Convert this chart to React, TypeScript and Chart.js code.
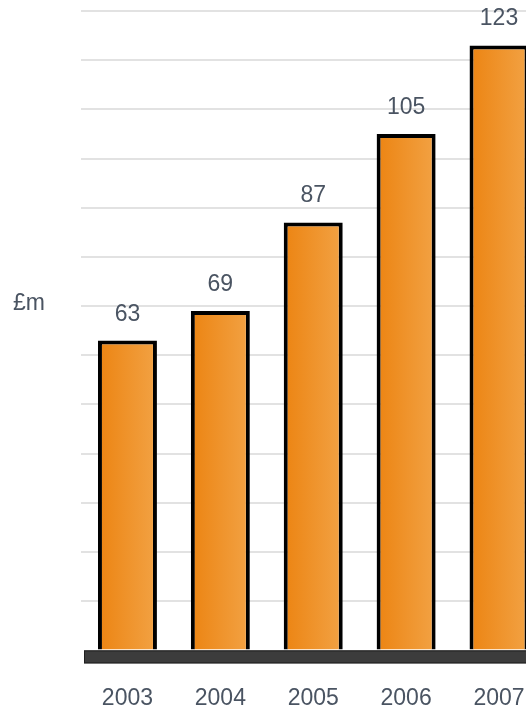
import React, { useEffect, useRef } from "react";
import { Chart, registerables } from "chart.js";

Chart.register(...registerables);

const years = ["2003", "2004", "2005", "2006", "2007"];
const revenue = [63, 69, 87, 105, 123];
const unitLabel = "£m";

const FONT = "'Liberation Sans', Arial, sans-serif";
const TEXT_COLOR = "#4a5462";
const BAR_PCT = 0.635;

const extrasPlugin = {
  id: "extras",
  afterDatasetsDraw(chart: any) {
    const { ctx, chartArea } = chart;
    const y0 = chart.scales.y.getPixelForValue(0);
    ctx.save();
    // dark base strip
    ctx.fillStyle = "#3c3c3c";
    ctx.strokeStyle = "#1f1f1f";
    ctx.lineWidth = 1;
    ctx.fillRect(chartArea.left + 3, y0, chart.width, 13);
    ctx.strokeRect(chartArea.left + 3.5, y0 + 0.5, chart.width, 12);
    // value labels
    ctx.font = `23px ${FONT}`;
    ctx.fillStyle = TEXT_COLOR;
    ctx.textAlign = "center";
    ctx.textBaseline = "alphabetic";
    const meta = chart.getDatasetMeta(0);
    meta.data.forEach((bar: any, i: number) => {
      ctx.fillText(String(revenue[i]), bar.x, bar.y - 20);
    });
    // unit label
    ctx.textAlign = "left";
    ctx.fillText(unitLabel, 13, 310);
    ctx.restore();
  },
};

export default function App() {
  const ref = useRef<HTMLCanvasElement | null>(null);
  useEffect(() => {
    if (!ref.current) return;
    const chart = new Chart(ref.current, {
      type: "bar",
      data: {
        labels: years,
        datasets: [
          {
            data: revenue,
            backgroundColor: (c: any) => {
              const xs = c.chart.scales?.x;
              if (!xs || !c.chart.chartArea) return "#ef8f24";
              const cx = xs.getPixelForValue(c.dataIndex);
              const half = (xs.width / years.length) * BAR_PCT / 2;
              const g = c.chart.ctx.createLinearGradient(cx - half, 0, cx + half, 0);
              g.addColorStop(0, "#ec8412");
              g.addColorStop(1, "#f2a244");
              return g;
            },
            borderColor: "#000000",
            borderWidth: 4,
            borderSkipped: "start",
            categoryPercentage: 1,
            barPercentage: BAR_PCT,
          },
        ],
      },
      options: {
        responsive: false,
        animation: false,
        devicePixelRatio: 1,
        layout: { padding: { left: 81, right: 14, top: 11, bottom: 8 } },
        plugins: { legend: { display: false }, tooltip: { enabled: false } },
        scales: {
          x: {
            grid: { display: false, drawTicks: false },
            border: { display: false },
            ticks: {
              padding: 34,
              color: TEXT_COLOR,
              font: { family: FONT, size: 23 },
            },
          },
          y: {
            min: 0,
            max: 130,
            border: { display: false },
            grid: {
              drawTicks: false,
              lineWidth: 2,
              color: (c: any) => (c.tick && c.tick.value === 0 ? "rgba(0,0,0,0)" : "#e2e2e2"),
            },
            ticks: { display: false, stepSize: 10 },
          },
        },
      },
      plugins: [extrasPlugin],
    });
    return () => chart.destroy();
  }, []);
  return (
    <div
      style={{
        position: "fixed",
        left: 0,
        top: 0,
        width: 526,
        height: 708,
        overflow: "hidden",
        background: "#ffffff",
      }}
    >
      <canvas ref={ref} width={560} height={754} style={{ width: 560, height: 754, display: "block" }} />
    </div>
  );
}
